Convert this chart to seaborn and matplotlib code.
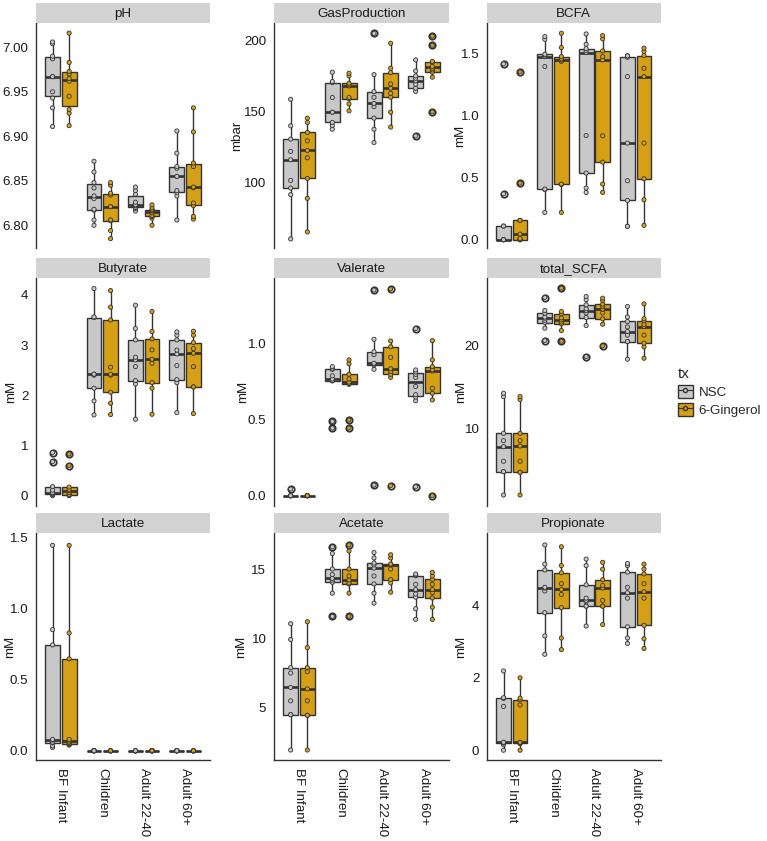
import pandas as pd
import seaborn as sns
import matplotlib.pyplot as plt
from matplotlib.patches import Patch
from matplotlib.lines import Line2D

# groups and treatments
groups = ["BF Infant", "Children", "Adult 22-40", "Adult 60+"]
treatments = ["NSC", "6-Gingerol"]

# values, one list per group
ph_nsc = [[6.911, 6.932, 6.943, 6.950, 6.967, 6.967, 6.987, 6.990, 7.004, 7.006],
          [6.800, 6.806, 6.817, 6.818, 6.830, 6.833, 6.842, 6.848, 6.860, 6.872],
          [6.816, 6.819, 6.820, 6.822, 6.822, 6.823, 6.826, 6.835, 6.839, 6.843],
          [6.806, 6.833, 6.837, 6.839, 6.855, 6.855, 6.864, 6.866, 6.881, 6.906]]
ph_ging = [[6.912, 6.926, 6.930, 6.945, 6.962, 6.965, 6.970, 6.973, 6.983, 7.016],
           [6.785, 6.794, 6.805, 6.806, 6.821, 6.821, 6.834, 6.836, 6.845, 6.848],
           [6.800, 6.808, 6.810, 6.811, 6.814, 6.816, 6.817, 6.818, 6.820, 6.823],
           [6.807, 6.810, 6.822, 6.825, 6.842, 6.843, 6.866, 6.870, 6.905, 6.932]]

gas_nsc = [[60.0, 91.3, 96.0, 101.4, 116.0, 121.9, 130.6, 140.0, 158.8],
           [137.6, 140.2, 142.4, 149.6, 149.6, 160.0, 170.6, 171.3, 177.9],
           [128.2, 137.6, 145.4, 153.6, 155.8, 160.2, 164.2, 176.2, 205.4],
           [132.9, 164.3, 166.6, 169.4, 171.8, 173.6, 175.3, 178.8, 186.6]]
gas_ging = [[65.0, 88.7, 102.8, 117.4, 122.6, 129.4, 135.3, 142.4, 145.4],
            [150.6, 155.5, 159.1, 160.0, 168.2, 169.0, 170.1, 175.3, 177.2],
            [139.1, 149.6, 160.2, 163.0, 166.6, 169.6, 177.6, 180.7, 198.4],
            [149.9, 174.4, 177.9, 179.5, 180.7, 182.0, 185.0, 185.6, 197.0, 203.5]]

bcfa_nsc = [[0.0, 0.0, 0.0, 0.0, 0.0, 0.11, 0.11, 0.37, 1.42],
            [0.220, 0.405, 0.409, 1.398, 1.478, 1.490, 1.497, 1.618, 1.640],
            [0.382, 0.417, 0.538, 0.841, 1.511, 1.527, 1.543, 1.578, 1.661],
            [0.108, 0.108, 0.317, 0.476, 0.780, 1.317, 1.473, 1.484, 1.484]]
bcfa_ging = [[0.0, 0.0, 0.0, 0.01, 0.045, 0.156, 0.156, 0.457, 1.355],
             [0.220, 0.445, 0.449, 1.440, 1.452, 1.460, 1.478, 1.551, 1.667],
             [0.382, 0.449, 0.626, 0.839, 1.452, 1.478, 1.524, 1.621, 1.648],
             [0.116, 0.323, 0.492, 0.780, 1.317, 1.384, 1.487, 1.520, 1.546]]

but_nsc = [[0.0, 0.02, 0.04, 0.06, 0.06, 0.11, 0.18, 0.678, 0.857],
           [1.608, 1.887, 2.140, 2.400, 2.419, 2.420, 3.548, 3.560, 4.126],
           [1.522, 2.226, 2.292, 2.571, 2.704, 2.757, 3.103, 3.329, 3.794],
           [1.654, 2.252, 2.312, 2.591, 2.824, 2.900, 3.103, 3.196, 3.262]]
but_ging = [[0.0, 0.01, 0.02, 0.06, 0.10, 0.12, 0.17, 0.60, 0.83],
            [1.615, 1.841, 2.060, 2.400, 2.419, 2.558, 3.500, 3.754, 4.086],
            [1.621, 2.140, 2.252, 2.638, 2.718, 2.904, 3.123, 3.269, 3.668],
            [1.635, 2.166, 2.166, 2.571, 2.837, 2.930, 3.050, 3.196, 3.276]]

val_nsc = [[0.0, 0.0, 0.0, 0.0, 0.0, 0.0, 0.0, 0.0, 0.044],
           [0.446, 0.490, 0.756, 0.760, 0.769, 0.790, 0.833, 0.840, 0.851],
           [0.070, 0.833, 0.862, 0.870, 0.873, 0.930, 0.949, 1.031, 1.356],
           [0.059, 0.626, 0.650, 0.666, 0.720, 0.780, 0.800, 0.815, 0.829, 1.101]]
val_ging = [[0.0, 0.0, 0.0, 0.0, 0.0, 0.0, 0.0, 0.0, 0.0],
            [0.446, 0.499, 0.734, 0.740, 0.749, 0.770, 0.800, 0.870, 0.895],
            [0.066, 0.780, 0.800, 0.820, 0.837, 0.912, 0.982, 1.020, 1.363],
            [0.0, 0.631, 0.675, 0.708, 0.822, 0.830, 0.851, 0.895, 1.022]]

tot_nsc = [[1.90, 4.74, 4.74, 6.00, 7.77, 8.50, 9.39, 13.85, 14.25],
           [20.65, 22.15, 22.83, 23.10, 23.36, 23.50, 23.97, 24.29, 25.87],
           [18.70, 22.47, 23.44, 24.00, 24.29, 24.50, 24.98, 25.60, 25.99],
           [18.38, 20.53, 20.53, 21.30, 21.74, 22.30, 22.96, 23.50, 24.78]]
tot_ging = [[1.90, 4.66, 4.66, 6.00, 7.85, 8.50, 9.39, 13.50, 13.85],
            [20.57, 21.86, 22.67, 22.90, 23.16, 23.40, 23.89, 24.17, 27.00],
            [20.00, 22.63, 23.28, 24.00, 24.45, 24.80, 25.06, 25.50, 25.79],
            [18.50, 19.90, 20.32, 21.30, 22.35, 22.60, 23.04, 23.30, 25.10]]

lac_nsc = [[0.023, 0.035, 0.056, 0.060, 0.075, 0.080, 0.745, 0.853, 1.446],
           [0.0, 0.0, 0.0, 0.0, 0.0, 0.0, 0.0, 0.0, 0.0],
           [0.0, 0.0, 0.0, 0.0, 0.0, 0.0, 0.0, 0.0, 0.0],
           [0.0, 0.0, 0.0, 0.0, 0.0, 0.0, 0.0, 0.0, 0.0]]
lac_ging = [[0.040, 0.045, 0.051, 0.060, 0.070, 0.080, 0.647, 0.829, 1.446],
            [0.0, 0.0, 0.0, 0.0, 0.0, 0.0, 0.0, 0.0, 0.0],
            [0.0, 0.0, 0.0, 0.0, 0.0, 0.0, 0.0, 0.0, 0.0],
            [0.0, 0.0, 0.0, 0.0, 0.0, 0.0, 0.0, 0.0, 0.0]]

ace_nsc = [[1.95, 4.50, 4.50, 5.50, 6.46, 7.50, 7.89, 9.92, 11.06],
           [11.59, 13.26, 14.05, 14.20, 14.33, 14.60, 15.00, 16.12, 16.60],
           [12.54, 13.26, 13.93, 14.50, 15.07, 15.30, 15.43, 15.80, 16.19],
           [11.37, 12.14, 12.97, 13.20, 13.52, 13.90, 14.52, 14.60, 14.64]]
ace_ging = [[1.95, 4.45, 4.45, 5.50, 6.36, 7.60, 7.89, 9.34, 11.20],
            [11.59, 13.26, 13.93, 14.00, 14.21, 14.50, 15.00, 16.30, 16.74],
            [13.33, 14.00, 14.24, 15.00, 15.31, 15.33, 15.36, 15.80, 16.03],
            [11.37, 12.25, 12.92, 13.30, 13.52, 13.90, 14.26, 14.50, 14.76]]

pro_nsc = [[0.0, 0.15, 0.20, 0.21, 0.22, 1.21, 1.43, 1.45, 2.19],
           [2.65, 3.16, 3.80, 4.40, 4.48, 4.50, 4.98, 5.14, 5.67],
           [3.43, 3.98, 3.98, 4.10, 4.14, 4.20, 4.57, 5.10, 5.28],
           [2.95, 3.10, 3.41, 4.20, 4.35, 4.50, 4.92, 5.10, 5.16]]
pro_ging = [[0.0, 0.18, 0.20, 0.21, 0.22, 1.25, 1.39, 1.44, 2.00],
            [2.78, 3.10, 3.94, 4.30, 4.44, 4.60, 4.90, 5.10, 5.62],
            [3.47, 3.98, 3.98, 4.14, 4.48, 4.55, 4.71, 5.00, 5.19],
            [2.81, 3.08, 3.45, 4.20, 4.38, 4.60, 4.87, 5.00, 5.14]]

# metric, nsc, gingerol, y label
panels = [("pH", ph_nsc, ph_ging, ""),
          ("GasProduction", gas_nsc, gas_ging, "mbar"),
          ("BCFA", bcfa_nsc, bcfa_ging, "mM"),
          ("Butyrate", but_nsc, but_ging, "mM"),
          ("Valerate", val_nsc, val_ging, "mM"),
          ("total_SCFA", tot_nsc, tot_ging, "mM"),
          ("Lactate", lac_nsc, lac_ging, "mM"),
          ("Acetate", ace_nsc, ace_ging, "mM"),
          ("Propionate", pro_nsc, pro_ging, "mM")]

# axis ranges / ticks (layout)
ylims = {"pH": (6.7745, 7.027), "GasProduction": (53.6, 212.5), "BCFA": (-0.067, 1.747),
         "Butyrate": (-0.206, 4.33), "Valerate": (-0.068, 1.433), "total_SCFA": (0.57, 28.2),
         "Lactate": (-0.065, 1.533), "Acetate": (1.23, 17.6), "Propionate": (-0.27, 6.0)}
yticks = {"pH": [6.80, 6.85, 6.90, 6.95, 7.00], "GasProduction": [100, 150, 200],
          "BCFA": [0.0, 0.5, 1.0, 1.5], "Butyrate": [0, 1, 2, 3, 4], "Valerate": [0.0, 0.5, 1.0],
          "total_SCFA": [10, 20], "Lactate": [0.0, 0.5, 1.0, 1.5], "Acetate": [5, 10, 15],
          "Propionate": [0, 2, 4]}
yfmt = {"pH": "{:.2f}", "BCFA": "{:.1f}", "Valerate": "{:.1f}", "Lactate": "{:.1f}"}
# y-title centre, pixels left of the axis line
ylab_off = {"GasProduction": 37, "BCFA": 27, "Butyrate": 25, "Valerate": 31,
            "total_SCFA": 26, "Lactate": 26, "Acetate": 33, "Propionate": 26}

rows = []
for name, nsc, ging, _ in panels:
    for tx, series in (("NSC", nsc), ("6-Gingerol", ging)):
        for g, vals in zip(groups, series):
            for v in vals:
                rows.append((name, g, tx, v))
df = pd.DataFrame(rows, columns=["metric", "group", "tx", "value"])

palette = {"NSC": "#C8C8C8", "6-Gingerol": "#D6A016"}
edge = "#333333"
txt = "#1a1a1a"
fs = 9.6

sns.set_style("white")
plt.rcParams["font.family"] = ["Liberation Sans", "DejaVu Sans"]

W, H = 767, 841
fig = plt.figure(figsize=(W / 100, H / 100), dpi=100)

col_l = [36, 274, 487]
col_r = [210, 449, 660.5]
row_t = [23.3, 278.3, 533]
row_b = [248, 506, 760]
strip_h = 20.5

for i, (name, _, _, ylab) in enumerate(panels):
    r, c = divmod(i, 3)
    left = col_l[c] / W
    bottom = 1 - row_b[r] / H
    wpx = col_r[c] - col_l[c]
    width = wpx / W
    height = (row_b[r] - row_t[r]) / H
    ax = fig.add_axes([left, bottom, width, height])
    sub = df[df.metric == name]

    sns.boxplot(data=sub, x="group", y="value", hue="tx", order=groups,
                hue_order=treatments, palette=palette, saturation=1,
                width=0.8, gap=0.1, linecolor=edge, linewidth=1.0,
                showcaps=False, medianprops={"linewidth": 1.9, "color": edge},
                flierprops={"marker": "o", "markersize": 4.6, "markerfacecolor": "white",
                            "markeredgecolor": edge, "markeredgewidth": 1.3},
                legend=False, ax=ax)
    sns.stripplot(data=sub, x="group", y="value", hue="tx", order=groups,
                  hue_order=treatments, palette=palette, dodge=True, jitter=False,
                  size=3.0, linewidth=0.6, edgecolor=edge, legend=False, ax=ax, zorder=5)

    ax.set_xlim(-0.6, 3.6)
    ax.set_ylim(*ylims[name])
    ax.set_yticks(yticks[name])
    fmt = yfmt.get(name, "{:g}")
    ax.set_yticklabels([fmt.format(t) for t in yticks[name]])
    ax.set_xlabel("")
    ax.set_ylabel(ylab, fontsize=fs, color=txt)
    if ylab:
        ax.yaxis.set_label_coords(-ylab_off[name] / wpx, 0.5)
        ax.yaxis.label.set_va("center")
    for s in ("top", "right"):
        ax.spines[s].set_visible(False)
    ax.spines["left"].set_color(edge)
    ax.spines["left"].set_linewidth(1.0)
    ax.tick_params(axis="y", length=3.5, width=0.9, color=edge, labelsize=fs,
                   labelcolor=txt, pad=2)
    if r < 2:
        ax.spines["bottom"].set_visible(False)
        ax.set_xticks([])
    else:
        ax.spines["bottom"].set_color(edge)
        ax.spines["bottom"].set_linewidth(1.0)
        ax.set_xticks(range(len(groups)))
        ax.set_xticklabels(groups, rotation=270, ha="center", va="top")
        ax.tick_params(axis="x", length=3.5, width=0.9, color=edge, labelsize=fs,
                       labelcolor=txt, pad=2)

    sax = fig.add_axes([left, 1 - row_t[r] / H, width, strip_h / H])
    sax.set_facecolor("#D3D3D3")
    sax.set_xticks([])
    sax.set_yticks([])
    for s in sax.spines.values():
        s.set_visible(False)
    sax.text(0.5, 0.45, name, ha="center", va="center", fontsize=fs,
             color=txt, transform=sax.transAxes)

handles = [(Patch(facecolor=palette[t], edgecolor=edge, linewidth=1.0),
            Line2D([], [], color=edge, lw=0.8, marker="o", markersize=3,
                   markerfacecolor=palette[t], markeredgecolor=edge))
           for t in treatments]
fig.legend(handles, treatments, title="tx", loc="upper left",
           bbox_to_anchor=(670 / W, 1 - 359 / H), frameon=False, fontsize=fs,
           title_fontsize=11, handlelength=1.1, handleheight=1.1,
           handletextpad=0.45, labelspacing=0.3, alignment="left",
           borderaxespad=0.2)

fig.savefig("out.png", dpi=100)
